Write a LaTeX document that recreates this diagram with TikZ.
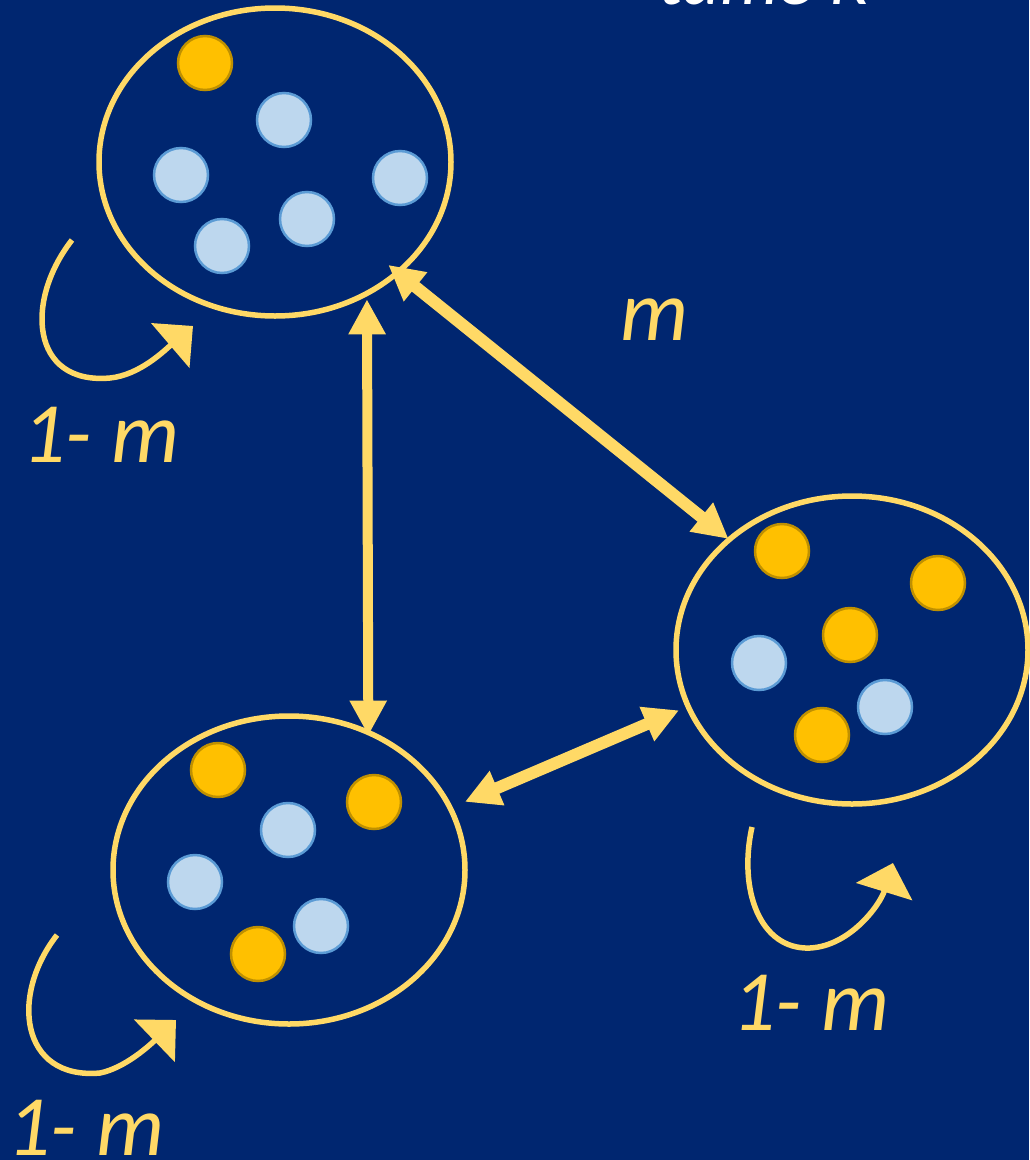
\documentclass[tikz,border=0pt]{standalone}
\usepackage{fontspec}
\setmainfont{Carlito}
\usetikzlibrary{arrows.meta,shapes.geometric}
\definecolor{bg}{HTML}{002670}
\definecolor{gold}{HTML}{FFD966}
\definecolor{orangefill}{HTML}{FFC000}
\definecolor{orangeline}{HTML}{BF9000}
\definecolor{bluefill}{HTML}{BDD7EE}
\definecolor{blueline}{HTML}{5B9BD5}
\tikzset{
  island/.style={ellipse, draw=gold, line width=5.5pt, minimum width=352pt, minimum height=308pt, inner sep=0pt, outer sep=0pt},
  odot/.style={circle, fill=orangefill, draw=orangeline, line width=2.5pt, minimum size=54pt, inner sep=0pt},
  bdot/.style={circle, fill=bluefill, draw=blueline, line width=2.5pt, minimum size=54pt, inner sep=0pt},
  dbl/.style={draw=gold, line width=11pt, {Triangle[width=35pt,length=35pt]}-{Triangle[width=35pt,length=35pt]}},
  loopar/.style={draw=gold, line width=5.5pt, -{Triangle[width=58pt,length=30pt]}},
  lbl/.style={text=gold, font=\fontsize{86}{96}\selectfont\itshape, inner sep=0pt, anchor=base west},
}
\begin{document}
\begin{tikzpicture}[x=1pt,y=-1pt]
\useasboundingbox (0,0) rectangle (1029,1160);
\fill[bg] (0,0) rectangle (1029,1160);
\begin{scope}
\clip (0,0) rectangle (1029,1160);
\node[text=white, font=\fontsize{74}{90}\selectfont\itshape, inner sep=0pt, anchor=base west] (title) at (658,4) {tame K};
\end{scope}

% islands
\node[island] (T) at (275,162) {};
\node[island] (R) at (852,650) {};
\node[island] (B) at (289,870) {};

% top island dots
\node[odot] (t1) at (205,63) {};
\node[bdot] (t2) at (284,120) {};
\node[bdot] (t3) at (181,175) {};
\node[bdot] (t4) at (400,178) {};
\node[bdot] (t5) at (307,219) {};
\node[bdot] (t6) at (222,246) {};

% right island dots
\node[odot] (r1) at (782,551) {};
\node[odot] (r2) at (938,583) {};
\node[odot] (r3) at (850,635) {};
\node[odot] (r4) at (822,735) {};
\node[bdot] (r5) at (759,663) {};
\node[bdot] (r6) at (885,707) {};

% bottom island dots
\node[odot] (b1) at (218,770) {};
\node[odot] (b2) at (374,802) {};
\node[odot] (b3) at (258,954) {};
\node[bdot] (b4) at (288,830) {};
\node[bdot] (b5) at (195,882) {};
\node[bdot] (b6) at (321,926) {};

% migration arrows
\draw[dbl, line width=10pt, shorten <=-3pt, shorten >=6pt] (B.60.3) -- (T.-55.5);
\draw[dbl, line width=12pt, shorten <=-12pt, shorten >=1pt] (T.-42.6) -- (R.138.7);
\draw[dbl, line width=12pt, shorten <=16pt, shorten >=10pt] (B.21.8) -- (R.199.8);

% self loops
\coordinate (l1s) at (72,240);
\coordinate (l1m) at (110,378);
\coordinate (l1e) at (193,326);
\draw[loopar] (l1s) .. controls (25,300) and (30,385) .. (l1m) .. controls (140,375) and (165,350) .. (l1e);

\coordinate (l2s) at (57,935);
\coordinate (l2m) at (100,1073);
\coordinate (l2e) at (176,1020);
\draw[loopar] (l2s) .. controls (10,995) and (20,1080) .. (l2m) .. controls (125,1068) and (150,1045) .. (l2e);

\coordinate (l3s) at (752,827);
\coordinate (l3m) at (810,948);
\coordinate (l3e) at (893,863);
\draw[loopar] (l3s) .. controls (738,890) and (760,950) .. (l3m) .. controls (850,946) and (880,905) .. (l3e);

% labels
\node[lbl] (m1) at (22,462) {1- m};
\node[lbl] (m2) at (620,340) {m};
\node[lbl] (m3) at (732,1030) {1- m};
\node[lbl] (m4) at (7,1155) {1- m};
\end{tikzpicture}
\end{document}
